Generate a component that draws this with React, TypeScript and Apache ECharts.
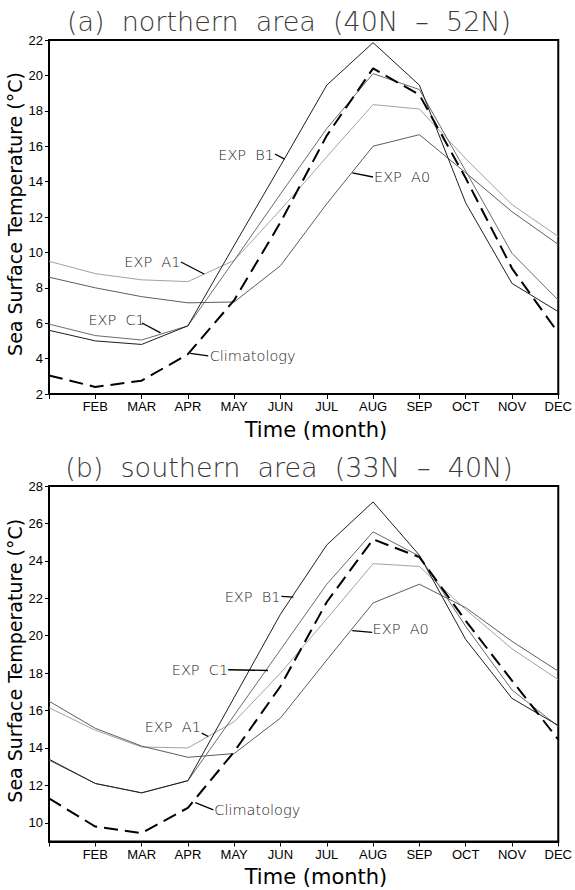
import React, { useEffect, useRef } from "react";
import * as echarts from "echarts";

const months = ["JAN", "FEB", "MAR", "APR", "MAY", "JUN", "JUL", "AUG", "SEP", "OCT", "NOV", "DEC"];

// (a) northern area
const northB1 = [5.6, 5.0, 4.8, 5.85, 10.4, 14.9, 19.45, 21.85, 19.45, 12.8, 8.25, 6.65];
const northC1 = [5.95, 5.3, 5.05, 5.85, 9.55, 13.3, 17.0, 20.1, 19.2, 14.6, 9.95, 7.3];
const northA1 = [9.5, 8.8, 8.45, 8.35, 9.55, 12.4, 15.4, 18.35, 18.1, 15.3, 12.7, 10.9];
const northA0 = [8.6, 8.0, 7.5, 7.15, 7.2, 9.25, 12.75, 16.0, 16.65, 14.5, 12.3, 10.45];
const northClim = [3.05, 2.4, 2.75, 4.25, 7.3, 11.7, 16.6, 20.4, 18.9, 14.2, 9.1, 5.45];

// (b) southern area
const southB1 = [13.4, 12.1, 11.6, 12.25, 16.7, 21.15, 24.85, 27.15, 24.3, 19.8, 16.65, 15.2];
const southC1 = [13.35, 12.1, 11.6, 12.25, 15.75, 19.25, 22.75, 25.55, 24.25, 20.5, 17.1, 15.15];
const southA1 = [16.15, 14.95, 14.05, 14.0, 15.4, 18.0, 20.9, 23.85, 23.7, 21.4, 19.3, 17.65];
const southA0 = [16.5, 15.05, 14.1, 13.5, 13.7, 15.6, 18.7, 21.75, 22.75, 21.5, 19.7, 18.1];
const southClim = [11.3, 9.8, 9.45, 10.8, 13.8, 17.3, 21.8, 25.15, 24.2, 20.8, 17.6, 14.45];

const northTicks = [2, 4, 6, 8, 10, 12, 14, 16, 18, 20, 22];
const southTicks = [10, 12, 14, 16, 18, 20, 22, 24, 26, 28];

const titles = ["(a)  northern  area  (40N  –  52N)", "(b)  southern  area  (33N  –  40N)"];
const yName = "Sea Surface Temperature (°C)";
const xName = "Time (month)";

// annotation labels: [grid, text, anchorX(month idx), anchorY(value), align, leader [x1,y1,x2,y2]]
const notes: [number, string, number, number, string, number[]][] = [
  [0, "EXP  B1", 4.86, 15.5, "right", [4.88, 15.56, 5.09, 15.27]],
  [0, "EXP  A1", 2.84, 9.46, "right", [2.85, 9.46, 3.35, 8.78]],
  [0, "EXP  C1", 2.07, 6.18, "right", [2.01, 6.01, 2.41, 5.45]],
  [0, "Climatology", 3.47, 4.15, "left", [3.05, 4.3, 3.44, 4.15]],
  [0, "EXP  A0", 7.02, 14.28, "left", [6.55, 14.49, 7.0, 14.26]],
  [1, "EXP  B1", 5.0, 22.05, "right", [5.02, 22.1, 5.28, 22.06]],
  [1, "EXP  C1", 3.87, 18.15, "right", [3.87, 18.18, 4.73, 18.14]],
  [1, "EXP  A1", 3.28, 15.11, "right", [3.3, 14.79, 3.44, 14.61]],
  [1, "Climatology", 3.57, 10.69, "left", [3.16, 11.08, 3.55, 10.69]],
  [1, "EXP  A0", 6.99, 20.36, "left", [6.55, 20.27, 6.98, 20.18]],
];

const styles = {
  B1: { color: "#1e1e1e", width: 1, type: "solid" },
  C1: { color: "#6a6a6a", width: 1, type: "solid" },
  A1: { color: "#a2a2a2", width: 1, type: "solid" },
  A0: { color: "#5c5c5c", width: 1, type: "solid" },
  Clim: { color: "#000000", width: 2, type: [14, 7] },
};

const tickFont = "Liberation Sans Narrow, Liberation Sans, Arial, sans-serif";

function mk(name: string, vals: number[], st: any, idx: number) {
  return {
    name,
    type: "line",
    xAxisIndex: idx,
    yAxisIndex: idx,
    data: vals.map((v, i) => [i, v]),
    symbol: "none",
    lineStyle: { color: st.color, width: st.width, type: st.type },
    z: name === "Clim" ? 3 : 2,
  };
}

export default function App() {
  const ref = useRef<HTMLDivElement>(null);
  useEffect(() => {
    if (!ref.current) return;
    const chart = echarts.init(ref.current, undefined, { renderer: "svg" });
    const xAxis = (gi: number) => ({
      type: "value",
      gridIndex: gi,
      min: 0,
      max: 11,
      interval: 1,
      axisLine: { show: true, lineStyle: { color: "#000", width: 2 } },
      axisTick: { show: true, length: 5, inside: false, lineStyle: { color: "#000", width: 1 } },
      splitLine: { show: false },
      axisLabel: {
        formatter: (v: number) => (v === 0 ? "" : months[Math.round(v)]),
        fontFamily: tickFont,
        fontSize: 13,
        color: "#000",
        margin: 6,
        showMinLabel: true,
        showMaxLabel: true,
      },
    });
    const yAxis = (gi: number, min: number, max: number, ticks: number[]) => ({
      type: "value",
      gridIndex: gi,
      min,
      max,
      axisLine: { show: true, lineStyle: { color: "#000", width: 2 } },
      axisTick: { show: true, length: 4, customValues: ticks, lineStyle: { color: "#000", width: 1 } },
      splitLine: { show: false },
      axisLabel: {
        customValues: ticks,
        fontFamily: tickFont,
        fontSize: 13,
        color: "#000",
        margin: 6,
      },
    });
    chart.setOption({
      animation: false,
      backgroundColor: "#fff",
      grid: [
        { left: 49, top: 40, width: 514, height: 354, show: true, borderColor: "#000", borderWidth: 2, backgroundColor: "transparent" },
        { left: 49, top: 486, width: 514, height: 355.5, show: true, borderColor: "#000", borderWidth: 2, backgroundColor: "transparent" },
      ],
      xAxis: [xAxis(0), xAxis(1)],
      yAxis: [yAxis(0, 2, 22, northTicks), yAxis(1, 9, 28, southTicks)],
      series: [
        mk("A1", northA1, styles.A1, 0),
        mk("A0", northA0, styles.A0, 0),
        mk("C1", northC1, styles.C1, 0),
        mk("B1", northB1, styles.B1, 0),
        mk("Clim", northClim, styles.Clim, 0),
        mk("A1", southA1, styles.A1, 1),
        mk("A0", southA0, styles.A0, 1),
        mk("C1", southC1, styles.C1, 1),
        mk("B1", southB1, styles.B1, 1),
        mk("Clim", southClim, styles.Clim, 1),
      ],
    });

    const gfx: any[] = [];
    const titleY = [21, 467];
    const xNameY = [430, 877];
    [0, 1].forEach((gi) => {
      const top = chart.convertToPixel({ gridIndex: gi }, [0, gi === 0 ? 22 : 28]) as number[];
      const bot = chart.convertToPixel({ gridIndex: gi }, [11, gi === 0 ? 2 : 9]) as number[];
      const midY = (top[1] + bot[1]) / 2;
      gfx.push({
        type: "text",
        x: 289,
        y: titleY[gi],
        style: {
          text: titles[gi],
          font: "200 27px 'DejaVu Sans', sans-serif",
          fill: "#3a3a3a",
          textAlign: "center",
          textVerticalAlign: "middle",
          align: "center",
          verticalAlign: "middle",
        },
      });
      gfx.push({
        type: "text",
        x: 15,
        y: midY - 3,
        rotation: Math.PI / 2,
        style: {
          text: yName,
          font: "19px 'DejaVu Sans', sans-serif",
          fill: "#000",
          textAlign: "center",
          textVerticalAlign: "middle",
          align: "center",
          verticalAlign: "middle",
        },
      });
      gfx.push({
        type: "text",
        x: 316,
        y: xNameY[gi],
        style: {
          text: xName,
          font: "21px 'DejaVu Sans', sans-serif",
          fill: "#000",
          textAlign: "center",
          textVerticalAlign: "middle",
          align: "center",
          verticalAlign: "middle",
        },
      });
    });
    notes.forEach(([gi, text, ax, ay, align, ld]) => {
      const p = chart.convertToPixel({ gridIndex: gi }, [ax, ay]) as number[];
      const a = chart.convertToPixel({ gridIndex: gi }, [ld[0], ld[1]]) as number[];
      const b = chart.convertToPixel({ gridIndex: gi }, [ld[2], ld[3]]) as number[];
      gfx.push({
        type: "text",
        x: p[0],
        y: p[1],
        z: 10,
        style: {
          text,
          font: "200 14.5px 'DejaVu Sans', sans-serif",
          fill: "#222",
          textAlign: align,
          textVerticalAlign: "middle",
          align,
          verticalAlign: "middle",
        },
      });
      gfx.push({
        type: "line",
        z: 10,
        shape: { x1: a[0], y1: a[1], x2: b[0], y2: b[1] },
        style: { stroke: "#000", lineWidth: 1.3 },
      });
    });
    chart.setOption({ graphic: gfx });

    return () => chart.dispose();
  }, []);
  return (
    <div
      ref={ref}
      style={{ position: "absolute", left: 0, top: 0, width: 575, height: 890, background: "#fff" }}
    />
  );
}
